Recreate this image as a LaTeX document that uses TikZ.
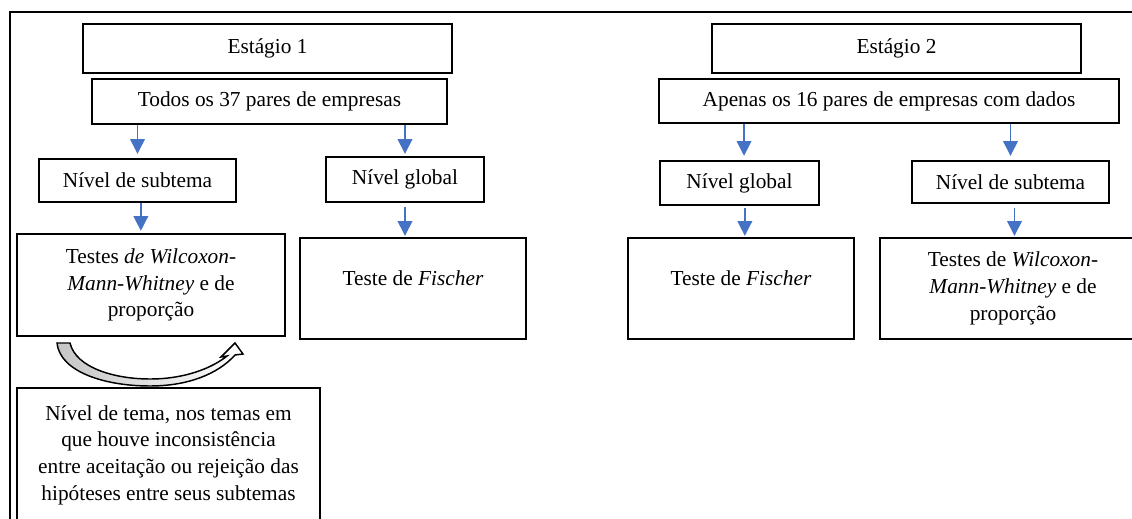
\documentclass[tikz,border=0pt]{standalone}
\usepackage{fontspec}
\setmainfont{Liberation Serif}
\usetikzlibrary{arrows.meta}
\definecolor{arrblue}{RGB}{68,114,196}
\newcommand\mkbox[7][]{\node[bx,#1,minimum width={(#5-#3)*0.75pt},minimum height={(#6-#4)*0.75pt}] (#2) at ({(#3+#5)/2},{(#4+#6)/2}) {#7};}
\begin{document}
\begin{tikzpicture}[x=0.75pt,y=-0.75pt,
  bx/.style={draw,line width=1.8pt,inner sep=0pt,align=center,font=\fontsize{16}{20}\selectfont},
  barrow/.style={color=arrblue,line width=1pt,-{Triangle[width=11pt,length=11pt]}},
  frame/.style={line width=1.7pt}]
\useasboundingbox (0,0) rectangle (1132,518);
% outer frame
\draw[frame] (10,530) -- (10,12) -- (1140,12);
% stage 1
\mkbox{st1}{83}{24}{452}{73}{Estágio 1}
\mkbox{todos}{92}{79}{447}{124}{Todos os 37 pares de empresas}
\mkbox{sub1}{39}{159}{236}{202}{Nível de subtema}
\mkbox{glob1}{326}{157}{484}{202}{Nível global}
\mkbox{tes1}{17}{234}{285}{336}{Testes \textit{de Wilcoxon-}\\\textit{Mann-Whitney} e de\\proporção}
\mkbox[text depth=16pt]{fis1}{300}{238}{526}{339}{Teste de \textit{Fischer}}
\mkbox{tema}{17}{388}{320}{522}{Nível de tema, nos temas em\\que houve inconsistência\\entre aceitação ou rejeição das\\hipóteses entre seus subtemas}
% stage 2
\mkbox{st2}{712}{24}{1081}{73}{Estágio 2}
\mkbox{apen}{659}{79}{1119}{123}{Apenas os 16 pares de empresas com dados}
\mkbox{glob2}{660}{161}{819}{205}{Nível global}
\mkbox{sub2}{912}{161}{1109}{203}{Nível de subtema}
\mkbox[text depth=16pt]{fis2}{628}{238}{854}{339}{Teste de \textit{Fischer}}
\mkbox{tes2}{880}{238}{1146}{339}{Testes de \textit{Wilcoxon-}\\\textit{Mann-Whitney} e de\\proporção}
% arrows
\draw[barrow,shorten >=3pt] (todos.south -| sub1.north) -- (sub1.north);
\draw[barrow,shorten >=1.5pt] (todos.south -| glob1.north) -- (glob1.north);
\draw[barrow,shorten >=1.5pt] ([xshift=2.5pt]sub1.south) -- ([xshift=2.5pt]sub1.south |- tes1.north);
\draw[barrow,shorten <=3pt,shorten >=0.75pt] (glob1.south) -- (glob1.south |- fis1.north);
\draw[barrow,shorten >=3pt] ([xshift=3.4pt]apen.south -| glob2.north) -- ([xshift=3.4pt]glob2.north);
\draw[barrow,shorten >=3pt] (apen.south -| sub2.north) -- (sub2.north);
\draw[barrow,shorten <=1.5pt,shorten >=0.75pt] ([xshift=4pt]glob2.south) -- ([xshift=4pt]glob2.south |- fis2.north);
\draw[barrow,shorten <=3pt,shorten >=0.75pt] ([xshift=3pt]sub2.south) -- ([xshift=3pt]sub2.south |- tes2.north);
% curved block arrow
\path[draw=black,line width=1.1pt,line join=miter,left color=gray!45,right color=white]
  (57,343) -- (70,343)
  .. controls (76,368) and (115,379) .. (150,379)
  .. controls (185,379) and (212,368) .. (227,356)
  -- (221,357) -- (235,343) -- (243,354) -- (235,355)
  .. controls (218,374) and (188,386) .. (150,386)
  .. controls (105,386) and (60,372) .. (57,343) -- cycle;
\end{tikzpicture}
\end{document}
